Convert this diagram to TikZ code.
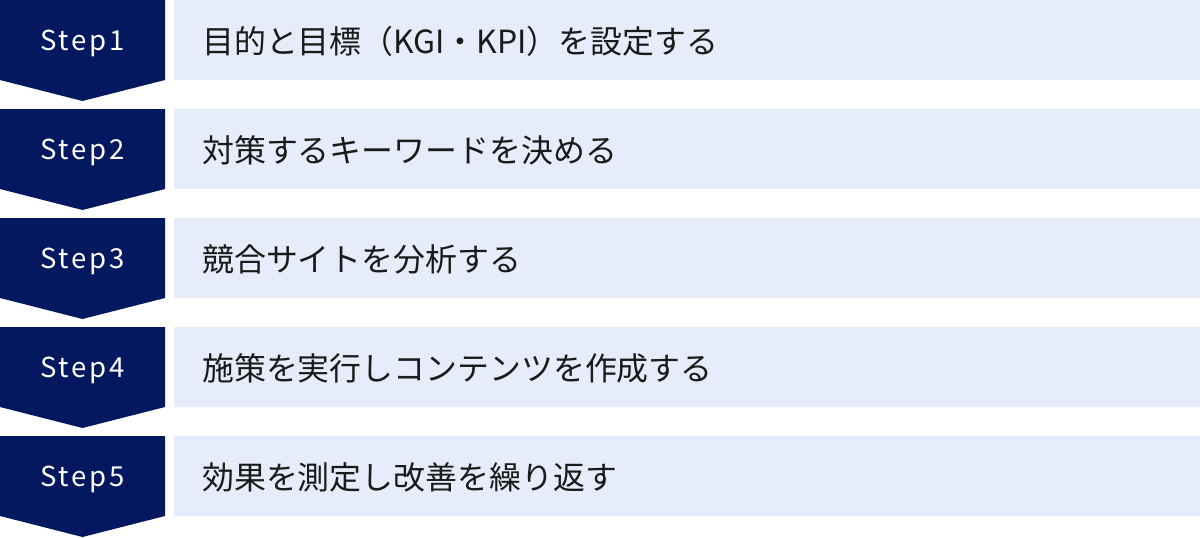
\documentclass[tikz,border=0pt]{standalone}
\usepackage{fontspec}
\setmainfont{Noto Sans CJK JP}
\newfontfamily\steplatin[LetterSpace=10]{Noto Sans CJK JP}
\usepackage{xcolor}
\definecolor{stepnavy}{RGB}{4,24,96}
\definecolor{taskblue}{RGB}{230,236,249}
\definecolor{taskink}{RGB}{26,26,26}

\begin{document}
\begin{tikzpicture}[x=1pt,y=-1pt,
    steplabel/.style={text=white,font=\steplatin\fontsize{27.5}{30}\selectfont,inner sep=0pt},
    tasklabel/.style={text=taskink,font=\fontsize{31.9}{36}\selectfont,anchor=west,inner sep=0pt}]
        \newcommand{\flowchevwidth}{165}
        \newcommand{\flowchevheight}{80}
        \newcommand{\flowchevtip}{101}
        \newcommand{\flowchevmid}{0.5*\flowchevwidth}
        \newcommand{\flowboxx}{174}
        \newcommand{\flowboxwidth}{1026}
        \newcommand{\flowtextx}{202}
        \newcommand{\flowrowa}{0}
        \newcommand{\flowrowb}{109}
        \newcommand{\flowrowc}{218}
        \newcommand{\flowrowd}{327}
        \newcommand{\flowrowe}{436}
        \useasboundingbox (0,0) rectangle (1200,538);
        % Step1
        \fill[stepnavy] (0,\flowrowa) -- (\flowchevwidth,\flowrowa) -- (\flowchevwidth,\flowrowa+\flowchevheight) -- (\flowchevmid,\flowrowa+\flowchevtip) -- (0,\flowrowa+\flowchevheight) -- cycle;
        \node[steplabel] (stepone) at (\flowchevmid,\flowrowa+43) {Step1};
        \fill[taskblue] (\flowboxx,\flowrowa) rectangle ++(\flowboxwidth,\flowchevheight);
        \node[tasklabel] (taskone) at (\flowtextx,\flowrowa+41) {目的と目標（KGI・KPI）を設定する};
        % Step2
        \fill[stepnavy] (0,\flowrowb) -- (\flowchevwidth,\flowrowb) -- (\flowchevwidth,\flowrowb+\flowchevheight) -- (\flowchevmid,\flowrowb+\flowchevtip) -- (0,\flowrowb+\flowchevheight) -- cycle;
        \node[steplabel] (steptwo) at (\flowchevmid,\flowrowb+43) {Step2};
        \fill[taskblue] (\flowboxx,\flowrowb) rectangle ++(\flowboxwidth,\flowchevheight);
        \node[tasklabel] (tasktwo) at (\flowtextx,\flowrowb+41) {対策するキーワードを決める};
        % Step3
        \fill[stepnavy] (0,\flowrowc) -- (\flowchevwidth,\flowrowc) -- (\flowchevwidth,\flowrowc+\flowchevheight) -- (\flowchevmid,\flowrowc+\flowchevtip) -- (0,\flowrowc+\flowchevheight) -- cycle;
        \node[steplabel] (stepthree) at (\flowchevmid,\flowrowc+43) {Step3};
        \fill[taskblue] (\flowboxx,\flowrowc) rectangle ++(\flowboxwidth,\flowchevheight);
        \node[tasklabel] (taskthree) at (\flowtextx,\flowrowc+41) {競合サイトを分析する};
        % Step4
        \fill[stepnavy] (0,\flowrowd) -- (\flowchevwidth,\flowrowd) -- (\flowchevwidth,\flowrowd+\flowchevheight) -- (\flowchevmid,\flowrowd+\flowchevtip) -- (0,\flowrowd+\flowchevheight) -- cycle;
        \node[steplabel] (stepfour) at (\flowchevmid,\flowrowd+43) {Step4};
        \fill[taskblue] (\flowboxx,\flowrowd) rectangle ++(\flowboxwidth,\flowchevheight);
        \node[tasklabel] (taskfour) at (\flowtextx,\flowrowd+41) {施策を実行しコンテンツを作成する};
        % Step5
        \fill[stepnavy] (0,\flowrowe) -- (\flowchevwidth,\flowrowe) -- (\flowchevwidth,\flowrowe+\flowchevheight) -- (\flowchevmid,\flowrowe+\flowchevtip) -- (0,\flowrowe+\flowchevheight) -- cycle;
        \node[steplabel] (stepfive) at (\flowchevmid,\flowrowe+43) {Step5};
        \fill[taskblue] (\flowboxx,\flowrowe) rectangle ++(\flowboxwidth,\flowchevheight);
        \node[tasklabel] (taskfive) at (\flowtextx,\flowrowe+41) {効果を測定し改善を繰り返す};
\end{tikzpicture}
\end{document}
